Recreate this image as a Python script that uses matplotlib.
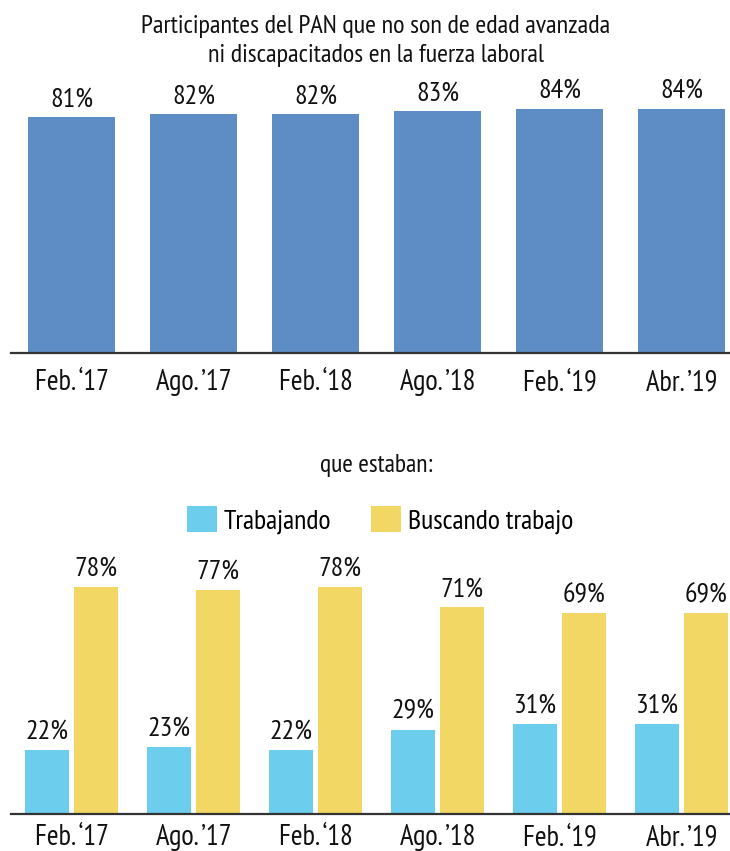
import matplotlib
matplotlib.use('Agg')
import matplotlib.pyplot as plt
import matplotlib.transforms as mtransforms
from matplotlib.patches import Patch

periods = ["Feb. ‘17", "Ago. ’17", "Feb. ‘18", "Ago. ’18", "Feb. ‘19", "Abr. ’19"]
participacion = [81, 82, 82, 83, 84, 84]
trabajando = [22, 23, 22, 29, 31, 31]
buscando = [78, 77, 78, 71, 69, 69]
series_names = ['Trabajando', 'Buscando trabajo']
title_lines = ["Participantes del PAN que no son de edad avanzada", "ni discapacitados en la fuerza laboral"]
subtitle = "que estaban:"

FONT = ['PT Sans Narrow', 'DejaVu Sans']
plt.rcParams['font.family'] = FONT

BLUE = '#5e8cc4'
CYAN = '#6ccdec'
YELLOW = '#f3d764'
AXC = '#333333'
TXT = '#111111'

W, H = 730, 851
fig = plt.figure(figsize=(W / 100, H / 100), dpi=100)
renderer = fig.canvas.get_renderer()


def fit_size(s, target_px, cap_px, ref=20.0):
    t = fig.text(0, 0, s, fontsize=ref)
    w = t.get_window_extent(renderer=renderer).width
    t.remove()
    fs_w = ref * target_px / w
    fs_h = cap_px / 0.70 * 0.72
    return (fs_w * fs_h) ** 0.5


fs_title = fit_size(title_lines[0], 478, 18)
fs_sub = fit_size(subtitle, 112, 18)
fs_tick = fit_size(periods[0], 70, 21)
fs_val = fit_size("81%", 42, 20)
fs_leg = fit_size(series_names[1], 162, 20)


def px_axes(left, bottom_y, right, top_y):
    return fig.add_axes([left / W, (H - bottom_y) / H, (right - left) / W, (bottom_y - top_y) / H])


x = list(range(len(periods)))
XLIM = (-0.496, 5.397)
PX_PER_UNIT = 2.91
val_off = 11 / PX_PER_UNIT


def style_axis(ax, label_baseline_px):
    ax.set_xlim(*XLIM)
    ax.set_ylim(0, 100)
    ax.set_xticks(x)
    ax.set_xticklabels([])
    ax.tick_params(axis='x', length=0)
    ax.set_yticks([])
    for s in ['top', 'right', 'left']:
        ax.spines[s].set_visible(False)
    ax.spines['bottom'].set_color(AXC)
    ax.spines['bottom'].set_linewidth(1.6)
    trans = mtransforms.blended_transform_factory(ax.transData, fig.transFigure)
    for xi, lab in zip(x, periods):
        ax.text(xi, 1 - label_baseline_px / H, lab, transform=trans, ha='center', va='baseline',
                fontsize=fs_tick, color=TXT)


# Top panel
ax1 = px_axes(11, 353, 730, 62)
ax1.bar(x, participacion, width=0.713, color=BLUE, zorder=2)
for xi, v in zip(x, participacion):
    ax1.text(xi, v + val_off, f"{v}%", ha='center', va='baseline', fontsize=fs_val, color=TXT)
style_axis(ax1, 390)

# Bottom panel
ax2 = px_axes(11, 814, 730, 523)
off = 0.2
bw = 0.36
xa = [xi - off for xi in x]
xb = [xi + off for xi in x]
ax2.bar(xa, trabajando, width=bw, color=CYAN, zorder=2)
ax2.bar(xb, buscando, width=bw, color=YELLOW, zorder=2)
for xi, v in zip(xa, trabajando):
    ax2.text(xi, v + val_off, f"{v}%", ha='center', va='baseline', fontsize=fs_val, color=TXT)
for xi, v in zip(xb, buscando):
    ax2.text(xi, v + val_off, f"{v}%", ha='center', va='baseline', fontsize=fs_val, color=TXT)
style_axis(ax2, 845)

fig.text(376 / W, 1 - 33 / H, title_lines[0], ha='center', va='baseline', fontsize=fs_title, color=TXT)
fig.text(376 / W, 1 - 62 / H, title_lines[1], ha='center', va='baseline', fontsize=fs_title, color=TXT)
fig.text(376 / W, 1 - 472 / H, subtitle, ha='center', va='baseline', fontsize=fs_sub, color=TXT)

em_px = fs_leg * 100 / 72
handles = [Patch(facecolor=CYAN), Patch(facecolor=YELLOW)]
fig.legend(handles, series_names, loc='center', bbox_to_anchor=(380 / W, 1 - 520 / H),
           ncol=2, frameon=False, fontsize=fs_leg, handlelength=30 / em_px, handleheight=30 / em_px,
           handletextpad=7 / em_px, columnspacing=40 / em_px, borderpad=0, borderaxespad=0)

fig.savefig('out.png', dpi=100)
